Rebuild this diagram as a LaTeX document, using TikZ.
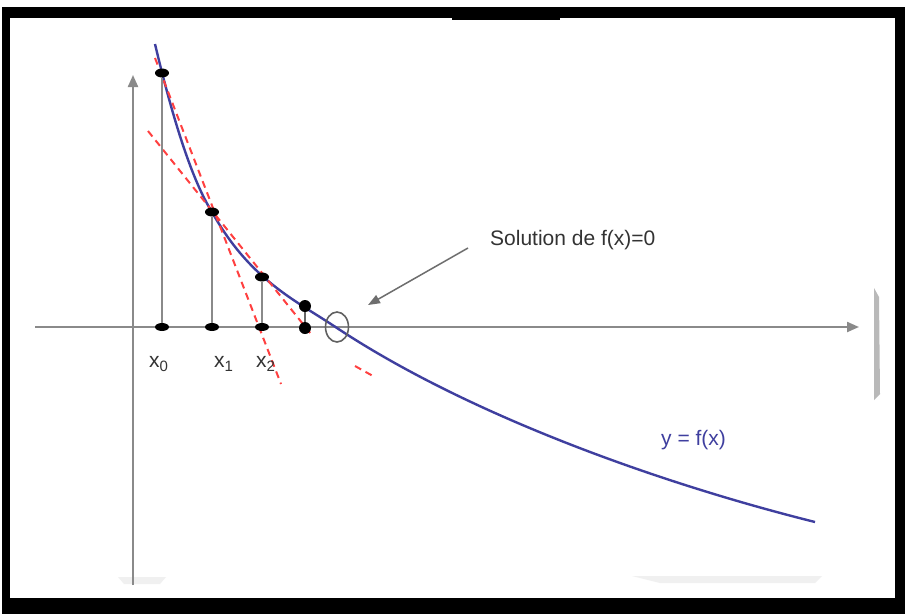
\documentclass[tikz,border=0pt]{standalone}
\usepackage{fontspec}
\setmainfont{Liberation Sans}
\usepackage{tikz}
\usetikzlibrary{arrows.meta, shapes.geometric}

\definecolor{axisgray}{HTML}{8A8A8A}
\definecolor{curveblue}{HTML}{3F3F9F}
\definecolor{tanred}{HTML}{FF4040}
\definecolor{textgray}{HTML}{333333}

\newcommand{\xidx}[1]{x\raisebox{-0.4ex}{\fontsize{15}{15}\selectfont #1}}

\begin{document}
\begin{tikzpicture}[
    x=1pt, y=-1pt,
    axis/.style={draw=axisgray, line width=2.2pt, -{Triangle[length=12pt, width=10pt]}},
    stem/.style={draw=axisgray, line width=2pt},
    curve/.style={draw=curveblue, line width=2.4pt},
    tangent/.style={draw=tanred, line width=2pt, dash pattern=on 7pt off 5pt},
    dot/.style={fill=black, ellipse, inner sep=0pt, minimum width=14pt, minimum height=9pt},
    bigdot/.style={fill=black, circle, inner sep=0pt, minimum size=12pt},
    lbl/.style={font=\fontsize{21}{25}\selectfont, text=textgray, inner sep=0pt},
    note/.style={font=\fontsize{21}{25}\selectfont, text=textgray, inner sep=0pt}
]
\useasboundingbox (0,0) rectangle (905,614);

% Frame
\fill[black] (2,7) rectangle (905,614);
\fill[white] (10,18) rectangle (895,598);
\fill[black] (452,7) rectangle (560,20);
\fill[gray!55] (874,288) -- (879,297) -- (880,394) -- (874,400) -- cycle;
\fill[gray!12] (118,577) -- (166,577) -- (160,584) -- (124,584) -- cycle;
\fill[gray!12] (632,576) -- (822,576) -- (815,583) -- (660,583) -- cycle;

% Axes
\coordinate (ybot) at (133,585);
\coordinate (ytop) at (133,75);
\coordinate (xleft) at (35,327);
\coordinate (xright) at (859,327);
\draw[axis] (ybot) -- (ytop);
\draw[axis] (xleft) -- (xright);

% Curve y = f(x)
\draw[curve] (155,44) .. controls (174,124) and (193,182) .. (212,212)
                     .. controls (250,280) and (295,300) .. (337,328)
                     .. controls (467,414) and (655,482) .. (815,522);

% Tangents
\coordinate (ta1) at (155,58);
\coordinate (ta2) at (281,384);
\coordinate (tb1) at (148,131);
\coordinate (tb2) at (311,334);
\coordinate (tc1) at (355,366);
\coordinate (tc2) at (373,376);
\draw[tangent] (ta1) -- (ta2);
\draw[tangent] (tb1) -- (tb2);
\draw[tangent] (tc1) -- (tc2);

% Points on the curve and on the axis
\node[dot] (p0) at (162,73) {};
\node[dot] (p1) at (212,212) {};
\node[dot] (p2) at (262,277) {};
\node[bigdot] (p3) at (305,306) {};
\node[dot, minimum height=8pt] (a0) at (162,327) {};
\node[dot, minimum height=8pt] (a1) at (212,327) {};
\node[dot, minimum height=8pt] (a2) at (262,327) {};
\node[bigdot] (a3) at (305,328) {};

\draw[stem] (p0.south) -- (a0.north);
\draw[stem] (p1.south) -- (a1.north);
\draw[stem] (p2.south) -- (a2.north);
\draw[stem, draw=gray!80!black] (p3.south) -- (a3.north);

% Root and annotation
\node[draw=axisgray!70!black, line width=1.6pt, ellipse, minimum width=23pt,
      minimum height=30pt, inner sep=0pt] (root) at (337,327) {};
\node[note, anchor=base west] (sol) at (490,245) {Solution de f(x)=0};
\coordinate (arrfrom) at (468,248);
\coordinate (arrto) at (368,305);
\draw[draw=axisgray!80!black, line width=1.5pt, -{Triangle[length=12pt, width=9pt]}] (arrfrom) -- (arrto);

% Labels
\node[lbl, anchor=base west] (l0) at (149,367) {\xidx{0}};
\node[lbl, anchor=base west] (l1) at (214,367) {\xidx{1}};
\node[lbl, anchor=base west] (l2) at (256,367) {\xidx{2}};
\node[lbl, text=curveblue, anchor=base west] (fx) at (661,445) {y = f(x)};

\end{tikzpicture}
\end{document}
